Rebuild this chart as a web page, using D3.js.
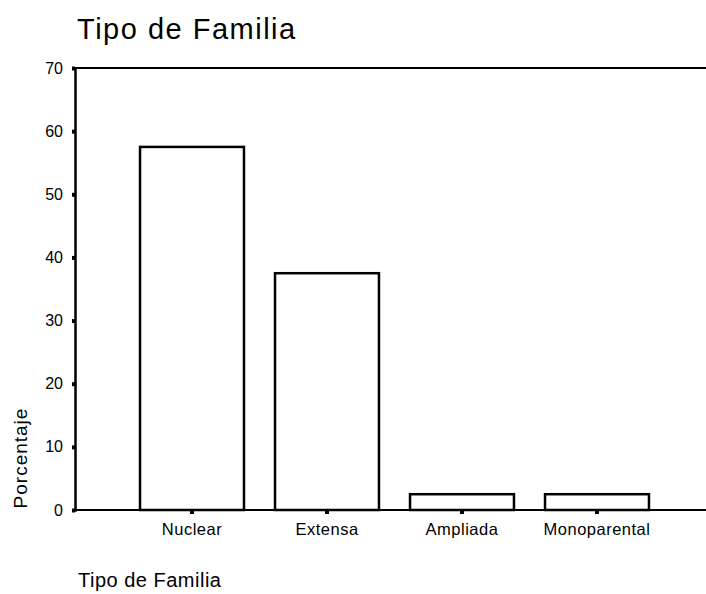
<!DOCTYPE html>
<html>
<head>
<meta charset="utf-8">
<script src="https://cdn.jsdelivr.net/npm/d3@7/dist/d3.min.js"></script>
<style>
	body { margin: 0; background: #fff; }
	svg text { font-family: "Liberation Sans", Arial, sans-serif; fill: #000; }
</style>
</head>
<body>
<div id="chart"></div>
<script>
// ---DATA---//
var categories = [ "Nuclear", "Extensa", "Ampliada", "Monoparental" ];
var percentages = [ 57.5, 37.5, 2.5, 2.5 ];
var yTicks = [ 0, 10, 20, 30, 40, 50, 60, 70 ];

var chartTitle = "Tipo de Familia";
var xTitle = "Tipo de Familia";
var yTitle = "Porcentaje";

// ---LAYOUT---//
var width = 706;
var height = 594;
// NOTE: "top" clashes with window.top, so use plot* names
var plotLeft = 75, plotTop = 68, plotBottom = 510;

var svg = d3.select("#chart").append("svg")
	.attr("width", width)
	.attr("height", height);

var y = d3.scaleLinear().domain([ 0, 70 ]).range([ plotBottom, plotTop ]);

var x = d3.scaleBand().domain(categories)
	.range([ 124.5, 664.5 ])
	.paddingInner(0.23)
	.paddingOuter(0.115);

// title
svg.append("text")
	.attr("x", 77).attr("y", 39)
	.style("font-size", "29px")
	.style("letter-spacing", "1.5px")
	.text(chartTitle);

// bars
svg.append("g").attr("class", "bars")
	.selectAll("rect").data(percentages).enter().append("rect")
	.attr("x", function(d, i) { return x(categories[i]); })
	.attr("y", function(d) { return y(d); })
	.attr("width", x.bandwidth())
	.attr("height", function(d) { return y(0) - y(d); })
	.attr("fill", "#fff")
	.attr("stroke", "#000")
	.attr("stroke-width", 2.5);

// frame lines (top and bottom run to the edge)
svg.append("line")
	.attr("x1", plotLeft).attr("x2", width)
	.attr("y1", y(70)).attr("y2", y(70))
	.attr("stroke", "#000").attr("stroke-width", 2);
svg.append("line")
	.attr("x1", plotLeft).attr("x2", width)
	.attr("y1", y(0)).attr("y2", y(0))
	.attr("stroke", "#000").attr("stroke-width", 2);

// y axis
var yAxis = svg.append("g")
	.attr("transform", "translate(" + plotLeft + ",0)")
	.call(d3.axisLeft(y).tickValues(yTicks).tickSize(3).tickPadding(9));
yAxis.select(".domain").attr("stroke-width", 2.5);
yAxis.selectAll(".tick line").attr("stroke-width", 4);
yAxis.selectAll(".tick text")
	.style("font-size", "16px")
	.attr("fill", "#000");

// x axis
var xAxis = svg.append("g")
	.attr("transform", "translate(0," + plotBottom + ")")
	.call(d3.axisBottom(x).tickSize(4).tickPadding(9));
xAxis.select(".domain").remove();
xAxis.selectAll(".tick line").attr("stroke-width", 4);
xAxis.selectAll(".tick text")
	.style("font-size", "16.5px")
	.style("letter-spacing", "0.5px")
	.attr("fill", "#000");

// axis titles
svg.append("text")
	.attr("transform", "translate(27,458) rotate(-90)")
	.attr("text-anchor", "middle")
	.style("font-size", "19px")
	.style("letter-spacing", "1px")
	.text(yTitle);

svg.append("text")
	.attr("x", 78).attr("y", 587)
	.style("font-size", "20px")
	.style("letter-spacing", "0.5px")
	.text(xTitle);
</script>
</body>
</html>
